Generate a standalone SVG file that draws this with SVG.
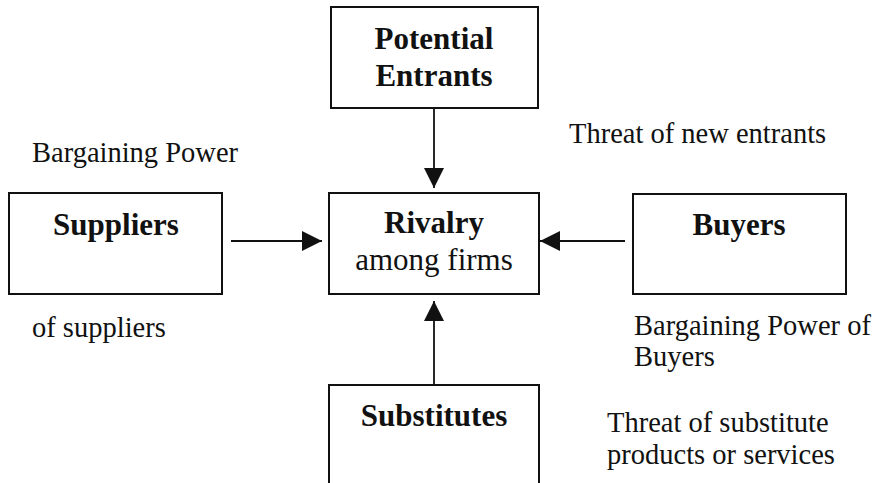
<svg xmlns="http://www.w3.org/2000/svg" width="872" height="483" viewBox="0 0 872 483">
  <style>
    .box { fill: #ffffff; stroke: #111111; stroke-width: 2; }
    .title { font-family: "Liberation Serif", "Times New Roman", serif; font-weight: bold; font-size: 31px; fill: #111111; text-anchor: middle; }
    .sub { font-family: "Liberation Serif", "Times New Roman", serif; font-size: 31px; fill: #111111; text-anchor: middle; }
    .label { font-family: "Liberation Serif", "Times New Roman", serif; font-size: 28.5px; fill: #111111; }
    .conn { stroke: #111111; stroke-width: 1.8; fill: none; }
  </style>
  <defs>
    <marker id="arrow" viewBox="0 0 20 20" refX="20" refY="10" markerWidth="20" markerHeight="20" markerUnits="userSpaceOnUse" orient="auto">
      <path d="M0,0 L20,10 L0,20 Z" fill="#111111"/>
    </marker>
  </defs>
  <rect width="872" height="483" fill="#ffffff"/>

  <g id="connectors">
    <line class="conn" x1="434" y1="108" x2="434" y2="188" marker-end="url(#arrow)"/>
    <line class="conn" x1="231" y1="241" x2="322" y2="241" marker-end="url(#arrow)"/>
    <line class="conn" x1="625" y1="241" x2="540" y2="241" marker-end="url(#arrow)"/>
    <line class="conn" x1="434" y1="385" x2="434" y2="301" marker-end="url(#arrow)"/>
  </g>

  <g id="potential-entrants">
    <rect class="box" x="331" y="7" width="207" height="101"/>
    <text class="title" x="434" y="49">Potential</text>
    <text class="title" x="434" y="86">Entrants</text>
  </g>

  <g id="suppliers">
    <rect class="box" x="9" y="193" width="213" height="101"/>
    <text class="title" x="116" y="235">Suppliers</text>
  </g>

  <g id="rivalry">
    <rect class="box" x="329" y="193" width="210" height="101"/>
    <text class="title" x="434" y="233">Rivalry</text>
    <text class="sub" x="434" y="270">among firms</text>
  </g>

  <g id="buyers">
    <rect class="box" x="633" y="194" width="213" height="100"/>
    <text class="title" x="739" y="235">Buyers</text>
  </g>

  <g id="substitutes">
    <rect class="box" x="329" y="385" width="210" height="130"/>
    <text class="title" x="434" y="426">Substitutes</text>
  </g>

  <g id="labels">
    <text class="label" x="569" y="143">Threat of new entrants</text>
    <text class="label" x="32" y="162">Bargaining Power</text>
    <text class="label" x="32" y="337">of suppliers</text>
    <text class="label" x="634" y="335">Bargaining Power of</text>
    <text class="label" x="634" y="366">Buyers</text>
    <text class="label" x="607" y="432">Threat of substitute</text>
    <text class="label" x="607" y="464">products or services</text>
  </g>
</svg>
